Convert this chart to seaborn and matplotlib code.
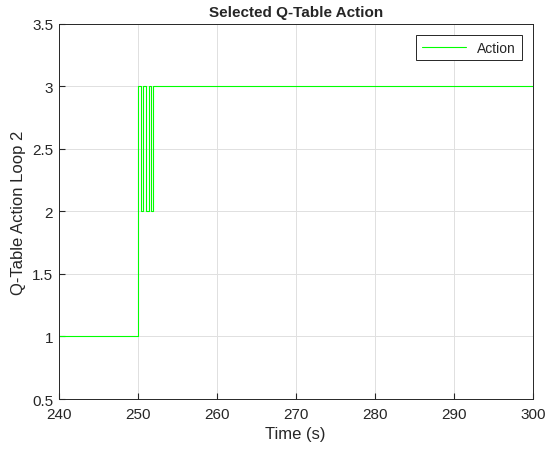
import numpy as np
import pandas as pd
import matplotlib
matplotlib.use('Agg')
import matplotlib.pyplot as plt
import seaborn as sns

# step data (value holds until the next time)
time_s = [240, 250, 250.4, 250.7, 251.0, 251.4, 251.7, 251.9, 300]
action = [1, 3, 2, 3, 2, 3, 2, 3, 3]
x_ticks = [240, 250, 260, 270, 280, 290, 300]
y_ticks = [0.5, 1, 1.5, 2, 2.5, 3, 3.5]

sns.set_style('whitegrid')
plt.rcParams['font.family'] = ['Liberation Sans', 'DejaVu Sans']

df = pd.DataFrame({'Time (s)': time_s, 'Action': action})

fig = plt.figure(figsize=(5.5, 4.52), dpi=100)
ax = fig.add_axes([0.1067, 0.115, 0.862, 0.830])
sns.lineplot(data=df, x='Time (s)', y='Action', ax=ax, color='#00ff00',
             linewidth=0.8, drawstyle='steps-post', estimator=None,
             sort=False, label='Action')

ax.set_xlim(240, 300)
ax.set_ylim(0.5, 3.5)
ax.set_xticks(x_ticks)
ax.set_yticks(y_ticks)
ax.set_yticklabels(['0.5', '1', '1.5', '2', '2.5', '3', '3.5'])
ax.grid(True, color='#e0e0e0', linewidth=0.7)
for s in ax.spines.values():
    s.set_visible(True)
    s.set_color('#262626')
    s.set_linewidth(0.7)
ax.tick_params(axis='both', labelsize=11, colors='#262626', direction='in', length=4,
               bottom=True, left=True)
ax.tick_params(axis='x', pad=6)
ax.tick_params(axis='y', pad=4)
ax.set_xlabel('Time (s)', fontsize=12, color='#262626', labelpad=3)
ax.set_ylabel('Q-Table Action Loop 2', fontsize=12, color='#262626')
ax.set_title('Selected Q-Table Action', fontsize=11, fontweight='bold', pad=6)

leg = ax.legend(loc='upper right', fontsize=10, fancybox=False, framealpha=1,
                edgecolor='#262626', borderaxespad=0.8, handlelength=3.2)
leg.get_frame().set_linewidth(0.7)
leg.get_lines()[0].set_linewidth(0.8)

plt.savefig('out.png', dpi=100)
